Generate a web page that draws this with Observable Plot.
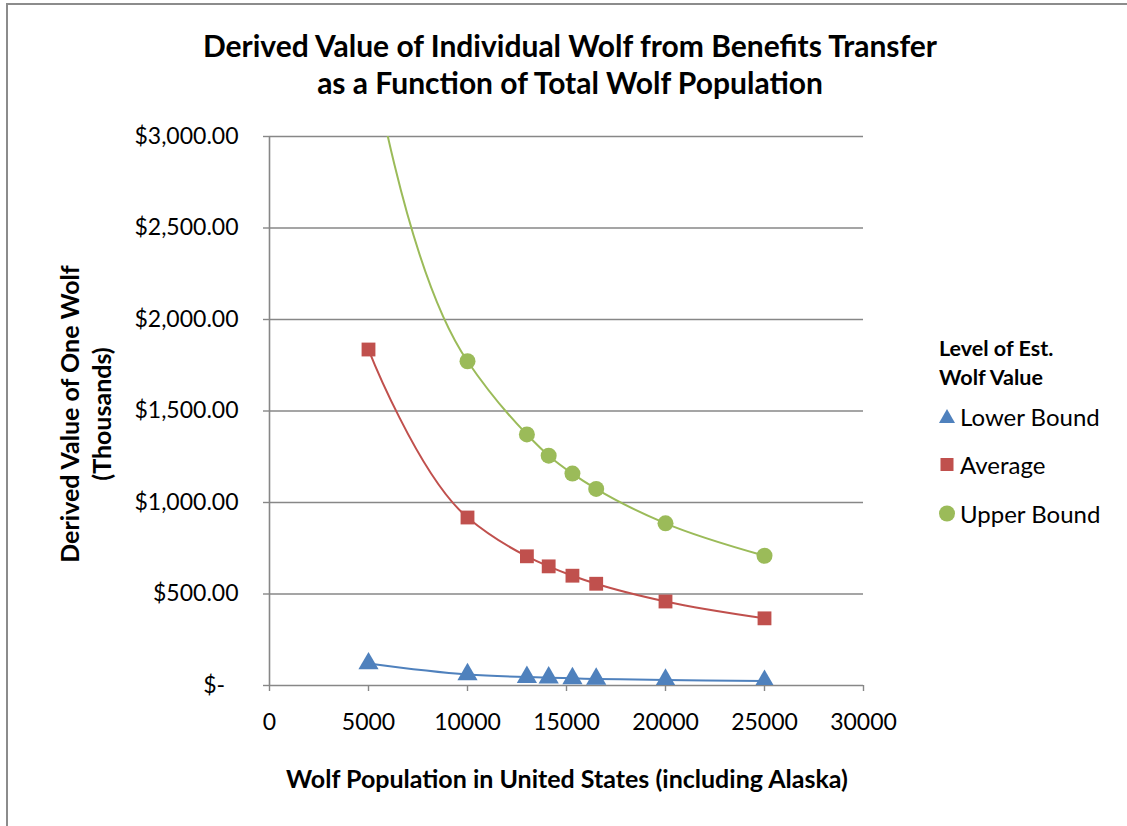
<!DOCTYPE html>
<html>
<head>
<meta charset="utf-8">
<script src="https://cdn.jsdelivr.net/npm/d3@7"></script>
<script src="https://cdn.jsdelivr.net/npm/@observablehq/plot@0.6"></script>
<style>
  html, body { margin: 0; padding: 0; background: #fff; }
  #wrap { position: relative; width: 1127px; height: 826px; overflow: hidden; font-family: Lato, "Open Sans", sans-serif; color: #000; }
  #border { position: absolute; left: 6px; top: 3px; width: 1200px; height: 900px; border-left: 2px solid #8c8c8c; border-top: 2px solid #8c8c8c; }
  #title { position: absolute; left: 0; width: 1140px; top: 27px; text-align: center; font-weight: bold; font-size: 30px; line-height: 37px; }
  #ytitle { position: absolute; left: 85px; top: 414px; width: 420px; transform: translate(-50%, -50%) rotate(-90deg); text-align: center; font-weight: bold; font-size: 25px; line-height: 32px; }
  #xtitle { position: absolute; left: 0; width: 1134px; top: 763px; text-align: center; font-weight: bold; font-size: 25px; }
  #legend { position: absolute; left: 939px; top: 334px; }
  #legend .lt { font-weight: bold; font-size: 21.5px; line-height: 29px; }
  #legend .item { display: flex; align-items: center; font-size: 24px; height: 48.5px; }
  #legend .item svg { margin-right: 4px; }
  #chart { position: absolute; left: 0; top: 0; }
</style>
</head>
<body>
<div id="wrap">
  <div id="border"></div>
  <div id="chart"></div>
  <div id="title">Derived Value of Individual Wolf from Benefits Transfer<br>as a Function of Total Wolf Population</div>
  <div id="ytitle">Derived Value of One Wolf<br>(Thousands)</div>
  <div id="xtitle">Wolf Population in United States (including Alaska)</div>
  <div id="legend"></div>
</div>
<script>
// Data
const population = [5000, 10000, 13000, 14100, 15300, 16500, 20000, 25000];
const lowerBound = [120, 60, 46, 43, 39, 36, 30, 24];
const average = [1836, 918, 706, 651, 600, 556, 459, 367];
const upperBound = [3544, 1772, 1372, 1256, 1158, 1074, 886, 709];

const seriesNames = ["Lower Bound", "Average", "Upper Bound"];
const seriesColors = ["#4F81BD", "#C0504D", "#9BBB59"];
const seriesSymbols = ["triangle", "square", "circle"];
const seriesValues = [lowerBound, average, upperBound];

const xTicks = [0, 5000, 10000, 15000, 20000, 25000, 30000];
const yTicks = [0, 500, 1000, 1500, 2000, 2500, 3000];

const rows = [];
seriesNames.forEach((name, i) => {
  population.forEach((p, j) => rows.push({series: name, x: p, y: seriesValues[i][j]}));
});

const yFmt = d => d === 0 ? "$-\u2007" : "$" + d3.format(",.2f")(d);

const grey = "#878787";

const chart = Plot.plot({
  width: 1127,
  height: 826,
  marginLeft: 269,
  marginRight: 264,
  marginTop: 136,
  marginBottom: 141,
  style: {fontFamily: "Lato, 'Open Sans', sans-serif", fontSize: "23px", color: "#000", background: "transparent"},
  x: {domain: [0, 30000], label: null},
  y: {domain: [0, 3000], label: null},
  color: {domain: seriesNames, range: seriesColors},
  symbol: {domain: seriesNames, range: seriesSymbols},
  marks: [
    Plot.ruleY(yTicks.filter(d => d > 0), {y: d => d, stroke: grey, strokeWidth: 1.4}),
    Plot.axisY({ticks: yTicks, tickSize: 6, tickPadding: 25, tickFormat: yFmt, stroke: grey, strokeWidth: 1.4, fill: "#000", label: null}),
    Plot.axisX({ticks: xTicks, tickSize: 6, tickPadding: 22, tickFormat: d => String(d), stroke: grey, strokeWidth: 1.4, fill: "#000", label: null}),
    Plot.ruleX([0], {stroke: grey, strokeWidth: 1.6}),
    Plot.ruleY([0], {stroke: grey, strokeWidth: 1.6}),
    Plot.line(rows, {x: "x", y: "y", z: "series", stroke: "series", curve: d3.curveCatmullRom.alpha(1), strokeWidth: 2, clip: true}),
    Plot.dot(rows.filter(d => d.series === "Lower Bound"), {x: "x", y: "y", symbol: "series", fill: "series", r: 7.5, clip: true}),
    Plot.dot(rows.filter(d => d.series === "Average"), {x: "x", y: "y", symbol: "series", fill: "series", r: 7.8, clip: true}),
    Plot.dot(rows.filter(d => d.series === "Upper Bound"), {x: "x", y: "y", symbol: "series", fill: "series", r: 8, clip: true})
  ]
});
document.getElementById("chart").appendChild(chart);

// Legend
const legend = document.getElementById("legend");
legend.innerHTML = '<div class="lt">Level of Est.<br>Wolf Value</div>';
const shapes = [
  c => `<polygon points="8,1 16,15 0,15" fill="${c}"/>`,
  c => `<rect x="1.5" y="2" width="13" height="13" fill="${c}"/>`,
  c => `<circle cx="8" cy="8.5" r="8" fill="${c}"/>`
];
seriesNames.forEach((name, i) => {
  const div = document.createElement("div");
  div.className = "item";
  div.innerHTML = `<svg width="17" height="17">${shapes[i](seriesColors[i])}</svg><span>${name}</span>`;
  legend.appendChild(div);
});
</script>
</body>
</html>
